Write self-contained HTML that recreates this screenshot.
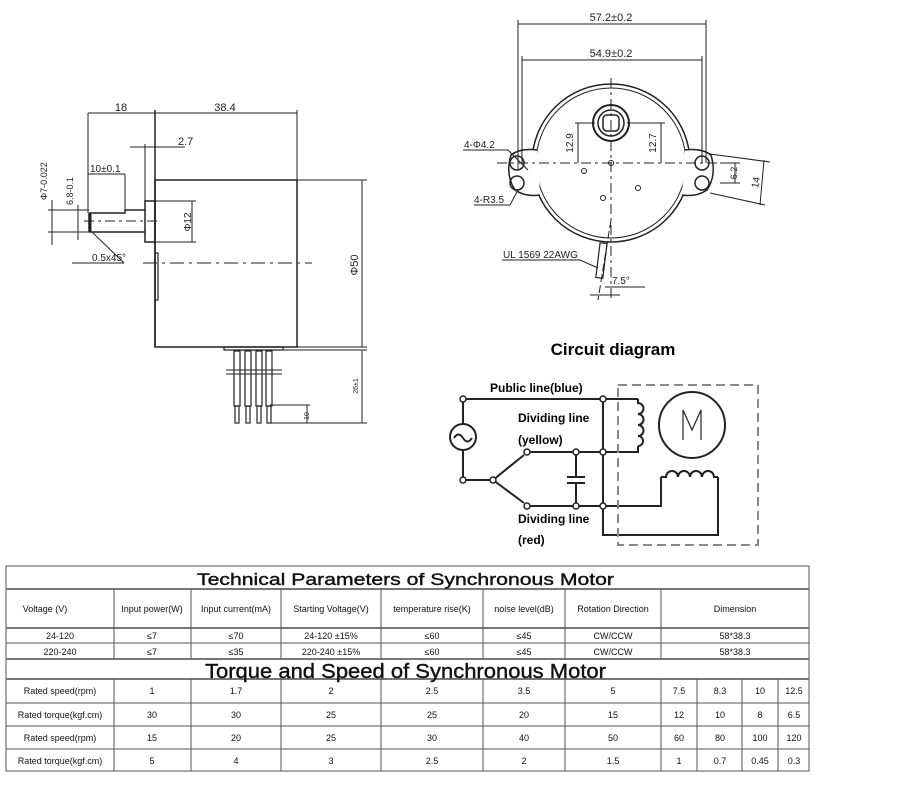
<!DOCTYPE html>
<html><head><meta charset="utf-8"><style>
html,body{margin:0;padding:0;background:#fff;width:908px;height:789px;overflow:hidden}
svg{display:block}
text{font-family:"Liberation Sans",sans-serif}
.n{font-family:"Liberation Sans Narrow","Liberation Sans",sans-serif}
</style></head><body>
<svg width="908" height="789" viewBox="0 0 908 789" xmlns="http://www.w3.org/2000/svg">
<g stroke="#222" fill="none" stroke-width="1">
<rect x="155" y="180" width="142" height="167" stroke-width="1.5"/>
<line x1="155" y1="110" x2="155" y2="347" stroke-width="1.5"/>
<rect x="145" y="201" width="10" height="41" stroke-width="1.5"/>
<path d="M89 213 H125 V210 H145 M89 232 H145 M89 213 V232" stroke-width="1.5"/>
<line x1="90" y1="213" x2="90" y2="232" stroke-width="3"/>
<rect x="155" y="253" width="3" height="47" stroke-width="1.2"/>
<line x1="143" y1="263" x2="312" y2="263" stroke-dasharray="14,5,3,5"/>
<line x1="84" y1="221" x2="160" y2="221" stroke-dasharray="10,4,3,4"/>
<line x1="88" y1="113" x2="297" y2="113"/>
<line x1="88" y1="113" x2="88" y2="213"/>
<line x1="297" y1="110" x2="297" y2="180"/>
<line x1="130" y1="147" x2="185" y2="147"/>
<line x1="145" y1="144" x2="145" y2="201"/>
<line x1="88" y1="174" x2="125" y2="174"/>
<line x1="125" y1="174" x2="125" y2="210"/>
<line x1="150" y1="201" x2="196" y2="201"/><line x1="150" y1="242" x2="196" y2="242"/>
<line x1="192" y1="201" x2="192" y2="242"/>
<line x1="297" y1="180" x2="367" y2="180"/><line x1="290" y1="347" x2="367" y2="347"/>
<line x1="362" y1="180" x2="362" y2="347"/>
<line x1="283" y1="350" x2="367" y2="350"/><line x1="270" y1="423" x2="367" y2="423"/>
<line x1="362" y1="350" x2="362" y2="423"/>
<line x1="270" y1="405" x2="310" y2="405"/><line x1="307" y1="405" x2="307" y2="423"/>
<line x1="48" y1="210" x2="89" y2="210"/><line x1="48" y1="232" x2="89" y2="232"/>
<line x1="52" y1="200" x2="52" y2="245"/>
<line x1="78" y1="205" x2="78" y2="240"/>
<line x1="92" y1="232" x2="124" y2="263"/><line x1="72" y1="263" x2="124" y2="263"/>
<path d="M224 347 h59 v3 h-59z" stroke-width="1.2"/>
<g stroke-width="1.2">
<rect x="234" y="351" width="6" height="55"/><rect x="245" y="351" width="6" height="55"/>
<rect x="256" y="351" width="6" height="55"/><rect x="266" y="351" width="6" height="55"/>
<rect x="235" y="406" width="4" height="17"/><rect x="246" y="406" width="4" height="17"/>
<rect x="257" y="406" width="4" height="17"/><rect x="267" y="406" width="4" height="17"/>
</g>
<line x1="226" y1="370" x2="282" y2="370"/><line x1="226" y1="374" x2="282" y2="374"/>

<circle cx="611" cy="163" r="79" stroke-width="1.5"/>
<circle cx="611" cy="163" r="75"/>
<path d="M537 150 Q520 148 511 155 Q505 175 515 190 Q525 197 540 195" fill="#fff" stroke-width="1.5"/>
<path d="M685 150 Q702 148 711 155 Q717 175 707 190 Q697 197 682 195" fill="#fff" stroke-width="1.5"/>
<circle cx="517" cy="163" r="7" stroke-width="1.5"/><circle cx="517" cy="183" r="7" stroke-width="1.5"/>
<circle cx="702" cy="163" r="7" stroke-width="1.5"/><circle cx="702" cy="183" r="7" stroke-width="1.5"/>
<circle cx="611" cy="123" r="18" stroke-width="2"/><circle cx="611" cy="123" r="13" stroke-width="1.5"/>
<rect x="603" y="115" width="16" height="16" rx="4" stroke-width="1.5"/>
<circle cx="611" cy="163" r="2.5"/><circle cx="584" cy="171" r="2.5"/><circle cx="638" cy="188" r="2.5"/><circle cx="603" cy="198" r="2.5"/>
<line x1="497" y1="163" x2="720" y2="163" stroke-dasharray="10,4,3,4"/>
<line x1="611" y1="78" x2="611" y2="300" stroke-dasharray="10,4,3,4"/>
<line x1="518" y1="24" x2="706" y2="24"/><line x1="518" y1="20" x2="518" y2="170"/><line x1="706" y1="20" x2="706" y2="163"/>
<line x1="522" y1="60" x2="702" y2="60"/><line x1="522" y1="56" x2="522" y2="163"/><line x1="702" y1="56" x2="702" y2="163"/>
<line x1="575" y1="123" x2="595" y2="123"/><line x1="578" y1="123" x2="578" y2="163"/>
<line x1="627" y1="123" x2="665" y2="123"/><line x1="661" y1="123" x2="661" y2="163"/>
<line x1="710" y1="154" x2="770" y2="162"/><line x1="710" y1="193" x2="765" y2="205"/>
<line x1="764" y1="160" x2="760" y2="205"/>
<line x1="720" y1="163" x2="740" y2="163"/><line x1="720" y1="183" x2="740" y2="183"/><line x1="735" y1="163" x2="735" y2="183"/>
<line x1="463" y1="150" x2="508" y2="150"/><line x1="508" y1="150" x2="528" y2="170"/>
<line x1="474" y1="205" x2="510" y2="205"/><line x1="510" y1="205" x2="518" y2="190"/>
<rect x="598" y="243" width="7" height="35" stroke-width="1.2" transform="rotate(7 601 260)"/>
<line x1="502" y1="260" x2="580" y2="260"/><line x1="580" y1="260" x2="598" y2="268"/>
<line x1="590" y1="295" x2="620" y2="295"/><line x1="605" y1="287" x2="645" y2="287"/>
<line x1="611" y1="220" x2="598" y2="300" stroke-dasharray="8,3"/>

<g stroke-width="2">
<path d="M463 399 H638"/>
<path d="M463 399 V424 M463 450 V480 H493"/>
<path d="M493 480 L524 455 M493 480 L524 503"/>
<path d="M527 452 H603 M527 506 H661 V477"/>
<path d="M603 399 V535 H718 V477"/>
<path d="M576 452 V477 M576 483 V506" /><path d="M567 477 H585 M567 483 H585"/>
<path d="M603 452 H638 V446"/>
<path d="M638 399 V403 a5.5 5.5 0 0 1 0 11 a5.5 5.5 0 0 1 0 11 a5.5 5.5 0 0 1 0 11 a5 5 0 0 1 0 10"/>
<path d="M661 477 H666 a6 6 0 0 1 12 0 a6 6 0 0 1 12 0 a6 6 0 0 1 12 0 a6 6 0 0 1 12 0 H718"/>
</g>
<circle cx="463" cy="437" r="13" stroke-width="2"/>
<path d="M454 438 q4.5 -7 9 0 t9 0" stroke-width="2"/>
<circle cx="692" cy="425" r="33" stroke-width="2"/>
<path d="M683 440 V410 L692 430 L701 410 V440" stroke-width="1.2"/>
<rect x="618" y="385" width="140" height="160" stroke="#888" stroke-width="2" stroke-dasharray="9,5"/>
<g fill="#fff" stroke-width="1.5">
<circle cx="463" cy="399" r="3"/><circle cx="603" cy="399" r="3"/><circle cx="463" cy="480" r="3"/><circle cx="493" cy="480" r="3"/>
<circle cx="527" cy="452" r="3"/><circle cx="527" cy="506" r="3"/><circle cx="576" cy="452" r="3"/><circle cx="576" cy="506" r="3"/>
<circle cx="603" cy="452" r="3"/><circle cx="603" cy="506" r="3"/>
</g>
</g>

<g fill="#222" class="n" font-size="11">
<text x="121" y="111" text-anchor="middle">18</text>
<text x="225" y="111" text-anchor="middle">38.4</text>
<text x="178" y="145">2.7</text>
<text x="90" y="172" font-size="10">10±0.1</text>
<text x="92" y="261" font-size="10">0.5x45°</text>
<text transform="translate(191 222) rotate(-90)" text-anchor="middle" font-size="10">Φ12</text>
<text transform="translate(358 265) rotate(-90)" text-anchor="middle">Φ50</text>
<text transform="translate(47 200) rotate(-90)" font-size="9">Φ7-0.022</text>
<text transform="translate(73 205) rotate(-90)" font-size="9">6.8-0.1</text>
<text transform="translate(358 386) rotate(-90)" text-anchor="middle" font-size="7">26±1</text>
<text transform="translate(309 416) rotate(-90)" text-anchor="middle" font-size="7">10</text>
<text x="611" y="21" text-anchor="middle">57.2±0.2</text>
<text x="611" y="57" text-anchor="middle">54.9±0.2</text>
<text transform="translate(573 143) rotate(-90)" text-anchor="middle" font-size="10">12.9</text>
<text transform="translate(656 143) rotate(-90)" text-anchor="middle" font-size="10">12.7</text>
<text transform="translate(737 173) rotate(-90)" text-anchor="middle" font-size="9">6.2</text>
<text transform="translate(759 183) rotate(-80)" text-anchor="middle" font-size="10">14</text>
<text x="464" y="148" font-size="10">4-Φ4.2</text>
<text x="474" y="203" font-size="10">4-R3.5</text>
<text x="503" y="258" font-size="10">UL 1569 22AWG</text>
<text x="612" y="284" font-size="10">7.5°</text>
</g>
<g fill="#000" font-weight="bold">
<text x="613" y="355" text-anchor="middle" font-size="17">Circuit diagram</text>
<text x="490" y="392" font-size="12">Public line(blue)</text>
<text x="518" y="422" font-size="12">Dividing line</text>
<text x="518" y="444" font-size="12">(yellow)</text>
<text x="518" y="523" font-size="12">Dividing line</text>
<text x="518" y="544" font-size="12">(red)</text>
</g>

<g stroke="#555" stroke-width="1">
<rect x="6" y="566" width="803" height="205" fill="none"/>
<line x1="6" y1="589" x2="809" y2="589" stroke-width="2" stroke="#777"/>
<line x1="6" y1="628" x2="809" y2="628" stroke-width="2" stroke="#777"/>
<line x1="6" y1="643" x2="809" y2="643"/>
<line x1="6" y1="659" x2="809" y2="659" stroke-width="2" stroke="#777"/>
<line x1="6" y1="679" x2="809" y2="679" stroke-width="2" stroke="#777"/>
<line x1="6" y1="703" x2="809" y2="703"/>
<line x1="6" y1="726" x2="809" y2="726"/>
<line x1="6" y1="749" x2="809" y2="749"/>
<g>
<line x1="114" y1="589" x2="114" y2="659"/><line x1="191" y1="589" x2="191" y2="659"/><line x1="281" y1="589" x2="281" y2="659"/>
<line x1="381" y1="589" x2="381" y2="659"/><line x1="483" y1="589" x2="483" y2="659"/><line x1="565" y1="589" x2="565" y2="659"/><line x1="661" y1="589" x2="661" y2="659"/>
<line x1="114" y1="679" x2="114" y2="771"/><line x1="191" y1="679" x2="191" y2="771"/><line x1="281" y1="679" x2="281" y2="771"/>
<line x1="381" y1="679" x2="381" y2="771"/><line x1="483" y1="679" x2="483" y2="771"/><line x1="565" y1="679" x2="565" y2="771"/><line x1="661" y1="679" x2="661" y2="771"/>
<line x1="697" y1="679" x2="697" y2="771"/><line x1="742" y1="679" x2="742" y2="771"/><line x1="778" y1="679" x2="778" y2="771"/>
</g>
</g>
<g fill="#111" class="n" font-size="9" text-anchor="middle">
<text x="197" y="585" font-size="17" text-anchor="start" textLength="417" lengthAdjust="spacingAndGlyphs" stroke="#111" stroke-width="0.4">Technical Parameters of Synchronous Motor</text>
<text x="205" y="678" font-size="20" text-anchor="start" textLength="401" lengthAdjust="spacingAndGlyphs" stroke="#111" stroke-width="0.4">Torque and Speed of Synchronous Motor</text>
<text x="45" y="612">Voltage (V)</text><text x="152" y="612">Input power(W)</text><text x="236" y="612">Input current(mA)</text>
<text x="331" y="612">Starting Voltage(V)</text><text x="432" y="612">temperature rise(K)</text><text x="524" y="612">noise level(dB)</text>
<text x="613" y="612">Rotation Direction</text><text x="735" y="612">Dimension</text>
<text x="60" y="639">24-120</text><text x="152" y="639">≤7</text><text x="236" y="639">≤70</text><text x="331" y="639">24-120 ±15%</text><text x="432" y="639">≤60</text><text x="524" y="639">≤45</text><text x="613" y="639">CW/CCW</text><text x="735" y="639">58*38.3</text>
<text x="60" y="655">220-240</text><text x="152" y="655">≤7</text><text x="236" y="655">≤35</text><text x="331" y="655">220-240 ±15%</text><text x="432" y="655">≤60</text><text x="524" y="655">≤45</text><text x="613" y="655">CW/CCW</text><text x="735" y="655">58*38.3</text>
<text x="60" y="694">Rated speed(rpm)</text><text x="152" y="694">1</text><text x="236" y="694">1.7</text><text x="331" y="694">2</text><text x="432" y="694">2.5</text><text x="524" y="694">3.5</text><text x="613" y="694">5</text><text x="679" y="694">7.5</text><text x="720" y="694">8.3</text><text x="760" y="694">10</text><text x="794" y="694">12.5</text>
<text x="60" y="718">Rated torque(kgf.cm)</text><text x="152" y="718">30</text><text x="236" y="718">30</text><text x="331" y="718">25</text><text x="432" y="718">25</text><text x="524" y="718">20</text><text x="613" y="718">15</text><text x="679" y="718">12</text><text x="720" y="718">10</text><text x="760" y="718">8</text><text x="794" y="718">6.5</text>
<text x="60" y="741">Rated speed(rpm)</text><text x="152" y="741">15</text><text x="236" y="741">20</text><text x="331" y="741">25</text><text x="432" y="741">30</text><text x="524" y="741">40</text><text x="613" y="741">50</text><text x="679" y="741">60</text><text x="720" y="741">80</text><text x="760" y="741">100</text><text x="794" y="741">120</text>
<text x="60" y="764">Rated torque(kgf.cm)</text><text x="152" y="764">5</text><text x="236" y="764">4</text><text x="331" y="764">3</text><text x="432" y="764">2.5</text><text x="524" y="764">2</text><text x="613" y="764">1.5</text><text x="679" y="764">1</text><text x="720" y="764">0.7</text><text x="760" y="764">0.45</text><text x="794" y="764">0.3</text>
</g>
</svg>
</body></html>
